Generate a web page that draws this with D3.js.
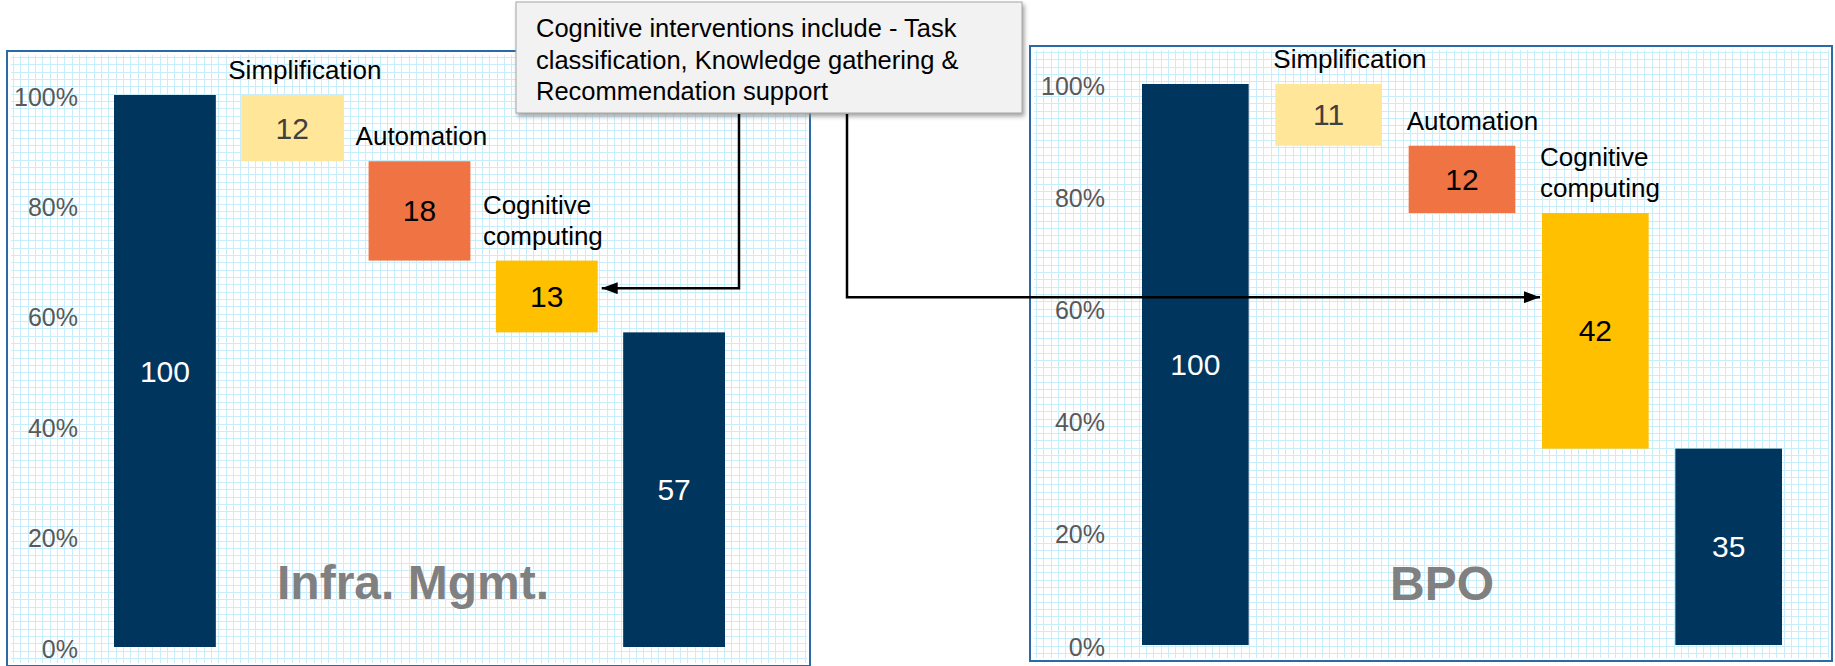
<!DOCTYPE html>
<html>
<head>
<meta charset="utf-8">
<script src="https://cdn.jsdelivr.net/npm/d3@7/dist/d3.min.js"></script>
<style>
    body { margin: 0; background: #fff; }
    svg { display: block; font-family: "Liberation Sans", Arial, sans-serif; }
</style>
</head>
<body>
<div id="chart"></div>
<script>

// data
var steps = ["Baseline", "Simplification", "Automation", "Cognitive computing", "Remaining"];
var stepLabels = [null, ["Simplification"], ["Automation"], ["Cognitive", "computing"], null];
var infraValues = [100, 12, 18, 13, 57];
var bpoValues = [100, 11, 12, 42, 35];
var tickValues = [0, 20, 40, 60, 80, 100];
var calloutLines = ["Cognitive interventions include - Task",
                    "classification, Knowledge gathering &",
                    "Recommendation support"];

var colors = {
    "Baseline": "#00365e",
    "Simplification": "#ffe699",
    "Automation": "#f07443",
    "Cognitive computing": "#ffc000",
    "Remaining": "#00365e"
};
var valueColors = {
    "Baseline": "#ffffff",
    "Simplification": "#404040",
    "Automation": "#000000",
    "Cognitive computing": "#000000",
    "Remaining": "#ffffff"
};

var svg = d3.select("#chart").append("svg")
    .attr("width", 1835)
    .attr("height", 666);

var defs = svg.append("defs");
defs.append("marker")
    .attr("id", "arrow")
    .attr("markerUnits", "userSpaceOnUse")
    .attr("viewBox", "0 0 16 12")
    .attr("refX", 16).attr("refY", 6)
    .attr("markerWidth", 16).attr("markerHeight", 12)
    .attr("orient", "auto")
    .append("path")
    .attr("d", "M0,0 L16,6 L0,12 Z")
    .attr("fill", "#000");

defs.append("filter")
    .attr("id", "shadow")
    .attr("x", "-5%").attr("y", "-10%")
    .attr("width", "115%").attr("height", "130%")
    .append("feDropShadow")
    .attr("dx", 2).attr("dy", 3)
    .attr("stdDeviation", 2)
    .attr("flood-color", "#7f7f7f")
    .attr("flood-opacity", 0.7);

/*
 * One waterfall panel
 */
function drawPanel(cfg) {
    var g = svg.append("g");

    // graph paper background
    var grid = g.append("g").attr("shape-rendering", "crispEdges");
    var gs = 7.33;
    var gx = d3.range(cfg.box[0] + 6, cfg.box[2] - 2, gs);
    var gy = d3.range(cfg.box[1] + 6, cfg.box[3] - 2, gs);
    grid.selectAll(".gv").data(gx).enter().append("line")
        .attr("x1", function(d) { return Math.round(d) + 0.5; })
        .attr("x2", function(d) { return Math.round(d) + 0.5; })
        .attr("y1", cfg.box[1] + 4).attr("y2", cfg.box[3] - 3)
        .attr("stroke", "#c8eefb");
    grid.selectAll(".gh").data(gy).enter().append("line")
        .attr("y1", function(d) { return Math.round(d) + 0.5; })
        .attr("y2", function(d) { return Math.round(d) + 0.5; })
        .attr("x1", cfg.box[0] + 4).attr("x2", cfg.box[2] - 3)
        .attr("stroke", "#c8eefb");

    g.append("rect")
        .attr("x", cfg.box[0]).attr("y", cfg.box[1])
        .attr("width", cfg.box[2] - cfg.box[0])
        .attr("height", cfg.box[3] - cfg.box[1])
        .attr("fill", "none")
        .attr("stroke", "#2a6aa6")
        .attr("stroke-width", 2);

    var x = d3.scaleBand()
        .domain(steps)
        .range(cfg.xRange)
        .paddingInner(0.2)
        .paddingOuter(0);

    var y = d3.scaleLinear()
        .domain([0, 100])
        .range(cfg.yRange);

    // waterfall: running total going down
    var rows = [];
    var level = cfg.values[0];
    cfg.values.forEach(function(v, i) {
        var top, bottom;
        if (i == 0 || i == cfg.values.length - 1) {
            top = v; bottom = 0;
        } else {
            top = level; bottom = level - v; level = bottom;
        }
        rows.push({step: steps[i], value: v, top: top, bottom: bottom, label: stepLabels[i]});
    });

    var yAxis = d3.axisLeft(y)
        .tickValues(tickValues)
        .tickFormat(function(d) { return d + "%"; })
        .tickSize(0)
        .tickPadding(0);

    var ax = g.append("g")
        .attr("transform", "translate(" + cfg.axisX + ",2)")
        .call(yAxis);
    ax.select(".domain").remove();
    ax.selectAll("text")
        .attr("fill", "#595959")
        .style("font-size", "25px")
        .style("font-family", "'Liberation Sans', Arial, sans-serif");

    g.append("text")
        .attr("x", cfg.titleX)
        .attr("y", cfg.titleY)
        .attr("text-anchor", "middle")
        .attr("fill", "#808080")
        .style("font-size", "48px")
        .style("font-weight", "bold")
        .text(cfg.title);

    g.selectAll(".bar")
        .data(rows)
        .enter().append("rect")
        .attr("class", "bar")
        .attr("x", function(d) { return x(d.step); })
        .attr("y", function(d) { return y(d.top); })
        .attr("width", x.bandwidth())
        .attr("height", function(d) { return y(d.bottom) - y(d.top); })
        .attr("fill", function(d) { return colors[d.step]; });

    g.selectAll(".val")
        .data(rows)
        .enter().append("text")
        .attr("class", "val")
        .attr("x", function(d) { return x(d.step) + x.bandwidth() / 2; })
        .attr("y", function(d) { return (y(d.top) + y(d.bottom)) / 2; })
        .attr("text-anchor", "middle")
        .attr("dominant-baseline", "central")
        .attr("fill", function(d) { return valueColors[d.step]; })
        .style("font-size", "30px")
        .text(function(d) { return d.value; });

    var lab = g.selectAll(".lab")
        .data(rows.filter(function(d) { return d.label; }))
        .enter().append("text")
        .attr("class", "lab")
        .attr("x", function(d) { return x(d.step) + cfg.labelShift; })
        .attr("y", function(d) { return y(d.top) - 16 - (d.label.length - 1) * 31; })
        .attr("fill", "#000")
        .style("font-size", "26px");
    lab.selectAll("tspan")
        .data(function(d) { return d.label; })
        .enter().append("tspan")
        .attr("x", function() { return d3.select(this.parentNode).attr("x"); })
        .attr("dy", function(d, i) { return i == 0 ? 0 : 31; })
        .text(function(d) { return d; });

    return {x: x, y: y};
}

var infra = drawPanel({
    box: [7, 51, 810, 666],
    xRange: [114, 725],
    yRange: [647, 95],
    axisX: 78,
    values: infraValues,
    title: "Infra. Mgmt.",
    titleX: 413, titleY: 599,
    labelShift: -13
});

var bpo = drawPanel({
    box: [1030, 46, 1832, 661],
    xRange: [1142, 1782],
    yRange: [645, 84],
    axisX: 1105,
    values: bpoValues,
    title: "BPO",
    titleX: 1442, titleY: 600,
    labelShift: -2
});

// callout box
var callout = svg.append("g");
callout.append("rect")
    .attr("x", 516).attr("y", 2)
    .attr("width", 506).attr("height", 111)
    .attr("fill", "#f2f2f2")
    .attr("stroke", "#a6a6a6")
    .attr("stroke-width", 1)
    .attr("filter", "url(#shadow)");
callout.selectAll("text")
    .data(calloutLines)
    .enter().append("text")
    .attr("x", 536)
    .attr("y", function(d, i) { return 37 + i * 31.5; })
    .attr("fill", "#000")
    .style("font-size", "25.5px")
    .text(function(d) { return d; });

// connector arrows to the cognitive boxes
var cog = "Cognitive computing";
var yL = infra.y(65);
var yR = bpo.y(62);
svg.append("path")
    .attr("d", "M739,114 V" + yL + " H" + (infra.x(cog) + infra.x.bandwidth() + 4))
    .attr("fill", "none")
    .attr("stroke", "#000")
    .attr("stroke-width", 2.5)
    .attr("marker-end", "url(#arrow)");
svg.append("path")
    .attr("d", "M847,114 V" + yR + " H" + (bpo.x(cog) - 2))
    .attr("fill", "none")
    .attr("stroke", "#000")
    .attr("stroke-width", 2.5)
    .attr("marker-end", "url(#arrow)");

</script>
</body>
</html>
